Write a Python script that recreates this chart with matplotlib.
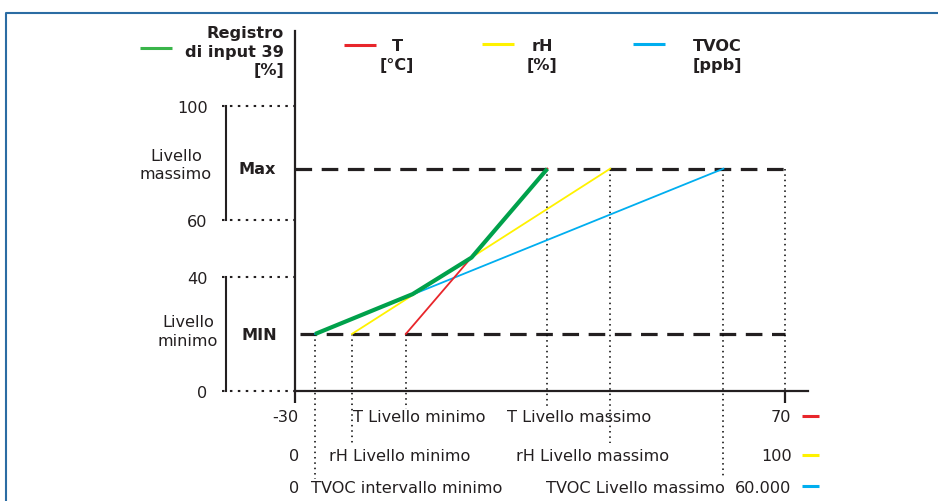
import matplotlib
matplotlib.use("Agg")
import matplotlib.pyplot as plt
from matplotlib.lines import Line2D

plt.rcParams["font.family"] = ["DejaVu Sans"]

TXT = "#231f20"
GREEN = "#00a14b"
GREEN_LEG = "#3ab54a"
RED = "#e8262b"
YELLOW = "#fff200"
BLUE = "#00aeef"
FS = 11.6

# register 39 scale (%)
y_ticks = [0, 40, 60, 100]
level_min = 20
level_max = 78

# input ranges placed on the common (T) axis
x_ends = [-30, 70]
t_range = [-7.4, 21.5]
rh_range = [-18.4, 34.3]
tvoc_range = [-25.9, 57.4]

# upper envelope = register 39
green_x = [-25.9, -6.0, 6.0, 21.5]
green_y = [20, 34.0, 46.8, 78]

row_names = ["T", "rH", "TVOC"]
row_min_vals = ["-30", "0", "0"]
row_max_vals = ["70", "100", "60.000"]
row_min_labels = ["T Livello minimo", "rH Livello minimo", "TVOC intervallo minimo"]
row_max_labels = ["T Livello massimo", "rH Livello massimo", "TVOC Livello massimo"]
row_colors = [RED, YELLOW, BLUE]

fig = plt.figure(figsize=(9.38, 5.02), dpi=100)
ax = fig.add_axes([0.3145, 0.2191, 0.5466, 0.7171])
ax.set_xlim(-30, 74.6)
ax.set_ylim(0, 126.3)
for s in ["top", "right"]:
    ax.spines[s].set_visible(False)
for s in ["left", "bottom"]:
    ax.spines[s].set_color(TXT)
    ax.spines[s].set_linewidth(1.6)

ax.set_xticks(x_ends)
ax.set_xticklabels([])
ax.tick_params(axis="x", length=8.5, width=1.6, color=TXT, direction="out")
ax.set_yticks(y_ticks)
ax.set_yticklabels([str(v) for v in y_ticks])
ax.tick_params(axis="y", length=0, pad=63, labelsize=FS, labelcolor=TXT)

# dashed level lines
ax.plot([x_ends[0], x_ends[1]], [level_max, level_max], color=TXT, lw=2.3,
        dashes=(5.2, 3), zorder=1)
ax.plot([x_ends[0] + 1, x_ends[1]], [level_min, level_min], color=TXT, lw=2.3,
        dashes=(5.2, 3), zorder=1)

# dotted guides on the left
for v in y_ticks:
    ax.plot([-44.9, -30], [v, v], color=TXT, lw=1.5, dashes=(1.2, 2.6),
            clip_on=False)
ax.plot([-44.1, -44.1], [60, 100], color=TXT, lw=1.5, clip_on=False)
ax.plot([-44.1, -44.1], [0, 40], color=TXT, lw=1.5, clip_on=False)

# vertical dotted guides down to the rows
row_y = [-9.1, -22.8, -33.7]
guide_bottom = [-6.3, -19.3, -30.9]
ranges = [t_range, rh_range, tvoc_range]
for rng, yb in zip(ranges, guide_bottom):
    ax.plot([rng[0], rng[0]], [level_min, yb], color="black", lw=1.1,
            dashes=(1.0, 2.5), clip_on=False)
    ax.plot([rng[1], rng[1]], [level_max, yb + 1], color="black", lw=1.1,
            dashes=(1.0, 2.5), clip_on=False)
ax.plot([x_ends[1], x_ends[1]], [level_max, 0], color="black", lw=1.1,
        dashes=(1.0, 2.5), clip_on=False)

# transfer lines
ax.plot(tvoc_range, [level_min, level_max], color=BLUE, lw=1.3, zorder=2)
ax.plot(rh_range, [level_min, level_max], color=YELLOW, lw=1.3, zorder=2)
ax.plot(t_range, [level_min, level_max], color=RED, lw=1.3, zorder=2)
ax.plot(green_x, green_y, color=GREEN, lw=3.0, zorder=3,
        solid_capstyle="butt", solid_joinstyle="round")

# bracket labels
ax.text(-54.3, 79.5, "Livello\nmassimo", ha="center", va="center",
        fontsize=FS, color=TXT, linespacing=1.3)
ax.text(-37.8, level_max, "Max", ha="center", va="center", fontsize=FS,
        fontweight="bold", color=TXT)
ax.text(-51.8, 21, "Livello\nminimo", ha="center", va="center",
        fontsize=FS, color=TXT, linespacing=1.3)
ax.text(-37.3, level_min, "MIN", ha="center", va="center", fontsize=FS,
        fontweight="bold", color=TXT)

# bottom rows
min_x = [-18.2, -23.1, -26.7]
max_x = [13.3, 15.1, 21.2]
for i in range(3):
    y = row_y[i]
    ax.text(-29.2, y, row_min_vals[i], ha="right", va="center", fontsize=FS,
            color=TXT)
    ax.text(min_x[i], y, row_min_labels[i], ha="left", va="center",
            fontsize=FS, color=TXT)
    ax.text(max_x[i], y, row_max_labels[i], ha="left", va="center",
            fontsize=FS, color=TXT)
    ax.text(71.3, y, row_max_vals[i], ha="right", va="center", fontsize=FS,
            color=TXT)
    ax.plot([73.5, 77.0], [y + 0.3, y + 0.3], color=row_colors[i], lw=2.2,
            solid_capstyle="butt", clip_on=False)

# top legend
ax.plot([-61.6, -55.1], [120.4, 120.4], color=GREEN_LEG, lw=2.2,
        solid_capstyle="butt", clip_on=False)
ax.text(-32.2, 119.2, "Registro\ndi input 39\n[%]", ha="right", va="center",
        fontsize=FS, fontweight="bold", color=TXT, linespacing=1.3)
leg_swatch_x = [[-20, -13.5], [8.2, 14.7], [39.0, 45.5]]
leg_swatch_y = [121.4, 121.8, 121.8]
leg_text_x = [-9.2, 20.4, 56.1]
leg_units = ["[°C]", "[%]", "[ppb]"]
for i in range(3):
    ax.plot(leg_swatch_x[i], [leg_swatch_y[i]] * 2, color=row_colors[i],
            lw=2.2, solid_capstyle="butt", clip_on=False)
    ax.text(leg_text_x[i], 117.8, row_names[i] + "\n" + leg_units[i],
            ha="center", va="center", fontsize=FS, fontweight="bold",
            color=TXT, linespacing=1.3)

# frame
fig.add_artist(Line2D([6 / 938, 6 / 938, 1.0], [0.0, 1 - 14 / 502, 1 - 14 / 502],
                      transform=fig.transFigure, color="#2b6ca3", lw=1.5))

fig.savefig("out.png", dpi=100)
